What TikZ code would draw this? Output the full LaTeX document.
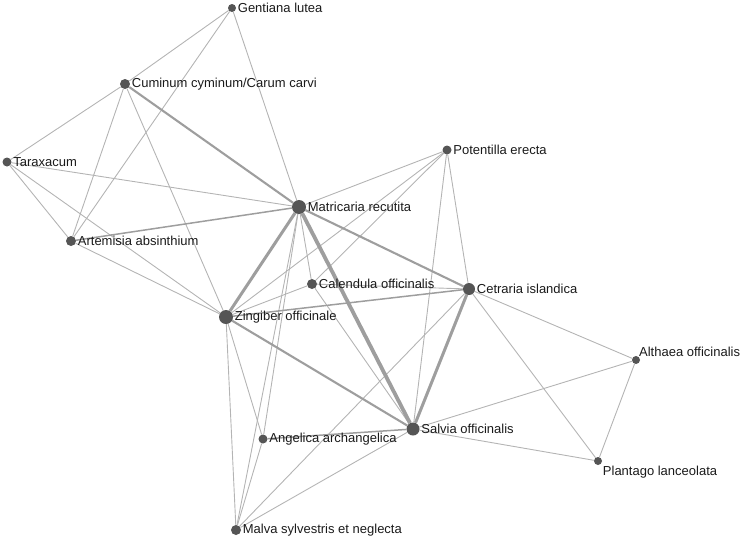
\documentclass[tikz,border=0pt]{standalone}
\usepackage{fontspec}
\setmainfont{Liberation Sans}
\usetikzlibrary{backgrounds}
\definecolor{nodegray}{HTML}{555555}
\definecolor{labelcol}{HTML}{1A1A1A}
\definecolor{edgethin}{HTML}{B4B4B4}
\definecolor{edgethick}{HTML}{9E9E9E}
\begin{document}
\begin{tikzpicture}[x=1pt,y=-1pt,
  vtx/.style={circle,fill=nodegray,inner sep=0pt,minimum size=#1},
  lbl/.style={font=\fontsize{13}{15}\selectfont,text=labelcol,inner sep=0pt},
  every label/.style={lbl},
  label distance=1.5pt,
  e1/.style={draw=edgethin,line width=0.9pt},
  e2/.style={draw=edgethick,line width=1.5pt},
  e3/.style={draw=edgethick,line width=2.1pt},
  e4/.style={draw=edgethick,line width=3pt},
  e5/.style={draw=edgethick,line width=3.8pt}]
\useasboundingbox (0,0) rectangle (746,539);
\node[vtx=8pt,label=right:Gentiana lutea] (G) at (232,8) {};
\node[vtx=10pt,label=right:Cuminum cyminum/Carum carvi] (Cu) at (125,84) {};
\node[vtx=9pt,label=right:Taraxacum] (T) at (7,162) {};
\node[vtx=10pt,label=right:Artemisia absinthium] (A) at (71,241) {};
\node[vtx=14pt,label=right:Matricaria recutita] (M) at (299,207) {};
\node[vtx=9pt,label=right:Potentilla erecta] (P) at (447,150) {};
\node[vtx=10pt,label=right:Calendula officinalis] (Ca) at (312,284) {};
\node[vtx=12pt,label=right:Cetraria islandica] (Ce) at (469,289) {};
\node[vtx=14pt,label=right:Zingiber officinale] (Z) at (226,317) {};
\node[vtx=8pt,label={[label distance=0pt]above right:Althaea officinalis}] (Al) at (636,360) {};
\node[vtx=13pt,label=right:Salvia officinalis] (S) at (413,429) {};
\node[vtx=9pt,label=right:Angelica archangelica] (An) at (263,439) {};
\node[vtx=8pt,label={[label distance=2.5pt]below right:Plantago lanceolata}] (Pl) at (598,461) {};
\node[vtx=10pt,label=right:Malva sylvestris et neglecta] (Mv) at (236,530) {};
\begin{scope}[on background layer]
\foreach \a/\b in {G/Cu,G/A,G/M,Cu/T,Cu/A,Cu/Z,T/M,T/A,T/Z,A/Z,M/P,M/Ca,M/An,M/Mv,
  P/Z,P/Ca,P/S,P/Ce,Ca/Ce,Ca/Z,Ca/S,Ce/Al,Ce/Pl,Ce/Mv,Z/An,Z/Mv,S/Mv,S/Al,S/Pl,Al/Pl,An/Mv}
  \draw[e1] (\a) -- (\b);
\draw[e2] (A) -- (M);
\draw[e2] (S) -- (An);
\draw[e2] (Z) -- (Ce);
\draw[e3] (Cu) -- (M);
\draw[e3] (M) -- (Ce);
\draw[e3] (Z) -- (S);
\draw[e4] (M) -- (Z);
\draw[e4] (Ce) -- (S);
\draw[e5] (M) -- (S);
\end{scope}
\end{tikzpicture}
\end{document}
